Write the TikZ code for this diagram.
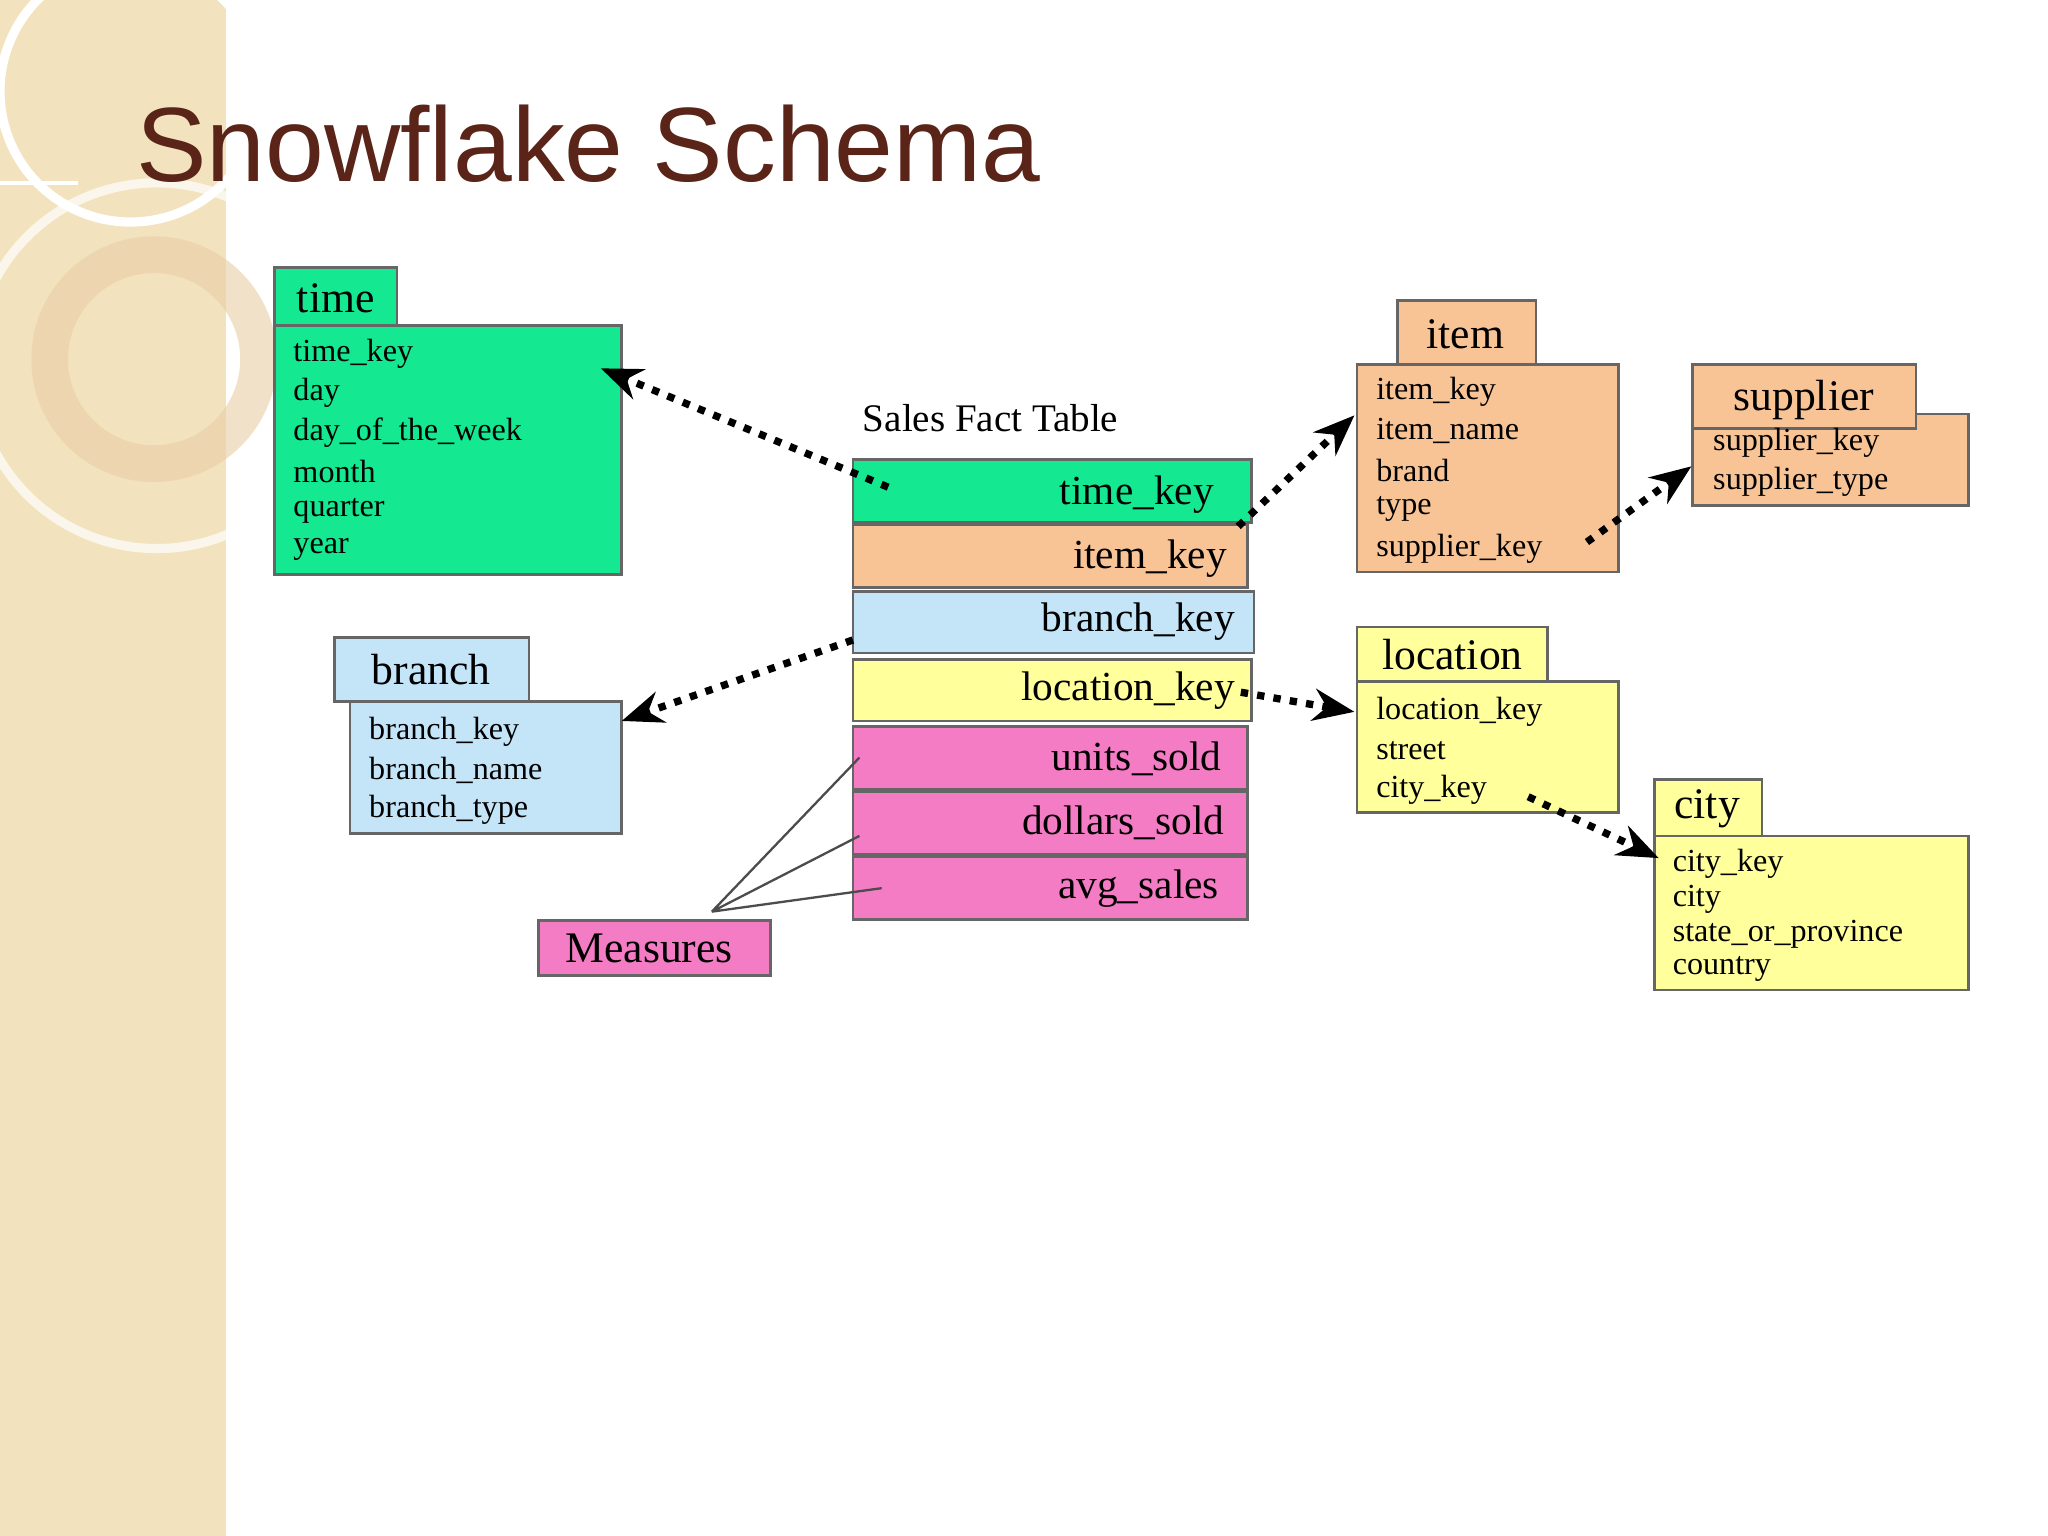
\documentclass[tikz,border=0pt]{standalone}
\usepackage{fontspec}
\setmainfont{Liberation Serif}
\newfontfamily\titlefont{Liberation Sans}
\usetikzlibrary{arrows.meta}
\definecolor{tgreen}{HTML}{14E890}
\definecolor{torange}{HTML}{F8C496}
\definecolor{tblue}{HTML}{C4E4F8}
\definecolor{tyellow}{HTML}{FFFF9C}
\definecolor{tpink}{HTML}{F47CC4}
\definecolor{tbeige}{HTML}{F3E2BE}
\definecolor{tbrown}{HTML}{5A2418}
\tikzset{
 box/.style={draw=black!60,line width=0.6pt},
 fld/.style={anchor=west,font=\fontsize{7}{8}\selectfont,inner sep=0pt},
 hdr/.style={font=\fontsize{9.5}{10}\selectfont,inner sep=0pt},
 fct/.style={anchor=east,font=\fontsize{9}{10}\selectfont,inner sep=0pt},
 lnk/.style={line width=1.6pt,dotted,-{Stealth[length=9pt,width=7pt]}},
}
\begin{document}
\begin{tikzpicture}[x=0.01cm,y=-0.01cm]
\useasboundingbox (0,0) rectangle (1568,1176);
\fill[white] (0,0) rectangle (1568,1176);
\fill[tbeige] (0,0) rectangle (173,1176);
\draw[white,line width=2pt] (100,70) circle (100);
\draw[white,opacity=0.7,line width=2pt] (120,280) circle (140);
\draw[tbeige!80!brown,line width=8pt,opacity=0.6] (118,275) circle (80);
\draw[white,line width=1pt] (0,140) -- (60,140);
\node[anchor=west,font=\titlefont\fontsize{23}{26}\selectfont,text=tbrown] (title) at (92,110) {Snowflake Schema};
% time
\draw[box,fill=tgreen] (210,205) rectangle (304,249);
\node[hdr] (th) at (257,228) {time};
\draw[box,fill=tgreen] (210,249) rectangle (476,440);
\foreach \t [count=\i] in {time\_key,day,day\_of\_the\_week,month,quarter,year}
  \node[fld] at (224,241+30*\i) {\t};
\coordinate (timeA) at (460,282);
% branch
\draw[box,fill=tblue] (256,488) rectangle (405,537);
\node[hdr] (bh) at (330,513) {branch};
\draw[box,fill=tblue] (268,537) rectangle (476,638);
\foreach \t [count=\i] in {branch\_key,branch\_name,branch\_type}
  \node[fld] at (282,530+30*\i) {\t};
\coordinate (branchA) at (476,552);
% measures
\draw[box,fill=tpink] (412,705) rectangle (590,747);
\node[hdr] (meas) at (497,726) {Measures};
\coordinate (mtop) at (545,698);
% fact
\node[anchor=west,font=\fontsize{8.5}{10}\selectfont,inner sep=0pt] (sft) at (660,320) {Sales Fact Table};
\draw[box,fill=tgreen] (653,352) rectangle (958,400);
\node[fct] at (930,379) {time\_key};
\draw[box,fill=torange] (653,402) rectangle (955,450);
\node[fct] at (940,428) {item\_key};
\draw[box,fill=tblue] (653,453) rectangle (960,500);
\node[fct] at (946,476) {branch\_key};
\draw[box,fill=tyellow] (653,505) rectangle (958,552);
\node[fct] at (946,529) {location\_key};
\draw[box,fill=tpink] (653,556) rectangle (955,604);
\node[fct] at (936,581) {units\_sold};
\draw[box,fill=tpink] (653,606) rectangle (955,654);
\node[fct] at (938,630) {dollars\_sold};
\draw[box,fill=tpink] (653,656) rectangle (955,704);
\node[fct] at (934,680) {avg\_sales};
\coordinate (fTime) at (680,373);
\coordinate (fTimeR) at (948,403);
\coordinate (fBranch) at (653,490);
\coordinate (fLoc) at (950,530);
\coordinate (fU) at (658,580);
\coordinate (fD) at (658,640);
\coordinate (fA) at (675,680);
% item
\draw[box,fill=torange] (1070,230) rectangle (1176,279);
\node[hdr] (ih) at (1122,256) {item};
\draw[box,fill=torange] (1039,279) rectangle (1239,438);
\foreach \t [count=\i] in {item\_key,item\_name,brand,type,supplier\_key}
  \node[fld] at (1053,270+30*\i) {\t};
\coordinate (itemA) at (1037,318);
\coordinate (supK) at (1215,415);
% supplier
\draw[box,fill=torange] (1296,317) rectangle (1507,387);
\draw[box,fill=torange] (1296,279) rectangle (1467,328);
\node[hdr] (sh) at (1381,306) {supplier};
\foreach \t [count=\i] in {supplier\_key,supplier\_type}
  \node[fld] at (1311,309+30*\i) {\t};
\coordinate (supA) at (1295,357);
% location
\draw[box,fill=tyellow] (1039,480) rectangle (1185,522);
\node[hdr] (lh) at (1112,501) {location};
\draw[box,fill=tyellow] (1039,522) rectangle (1239,622);
\foreach \t [count=\i] in {location\_key,street,city\_key}
  \node[fld] at (1053,515+30*\i) {\t};
\coordinate (locA) at (1037,545);
\coordinate (cityK) at (1170,610);
% city
\draw[box,fill=tyellow] (1267,597) rectangle (1349,640);
\node[hdr] (ch) at (1307,619) {city};
\draw[box,fill=tyellow] (1267,640) rectangle (1507,758);
\foreach \t [count=\i] in {city\_key,city,state\_or\_province,country}
  \node[fld] at (1280,635+26.7*\i) {\t};
\coordinate (cityA) at (1270,657);
% links
\draw[lnk] (fTime) -- (timeA);
\draw[lnk] (fTimeR) -- (itemA);
\draw[lnk] (supK) -- (supA);
\draw[lnk] (fBranch) -- (branchA);
\draw[lnk] (fLoc) -- (locA);
\draw[lnk] (cityK) -- (cityA);
\draw[black!70,line width=0.5pt] (mtop) -- (fU) (mtop) -- (fD) (mtop) -- (fA);
\end{tikzpicture}
\end{document}
